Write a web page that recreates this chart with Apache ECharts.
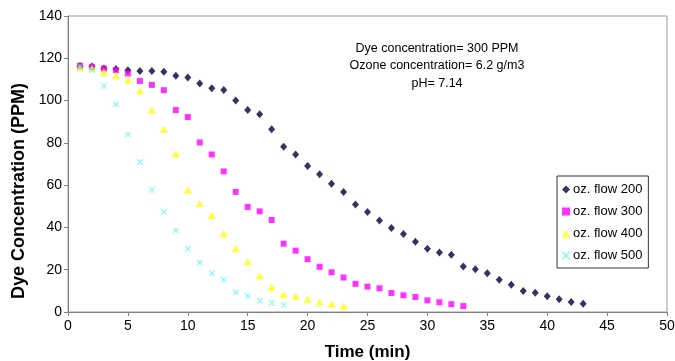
<!DOCTYPE html>
<html>
<head>
<meta charset="utf-8">
<script src="https://cdn.jsdelivr.net/npm/echarts@6/dist/echarts.min.js"></script>
<style>
  html, body { margin: 0; padding: 0; background: #fff; }
  #chart { width: 675px; height: 361px; }
</style>
</head>
<body>
<div id="chart"></div>
<script>
// time (min) for each series
var time200 = [1,2,3,4,5,6,7,8,9,10,11,12,13,14,15,16,17,18,19,20,21,22,23,24,25,26,27,28,29,30,31,32,33,34,35,36,37,38,39,40,41,42,43]
var flow200 = [116.4,116.1,115.2,114.9,114.4,114,114,113.6,111.7,110.9,108.1,105.8,105,100,95.5,93.5,86.4,78.2,74.5,69,65.2,60.7,56.8,50.8,47.3,43.3,39.7,36.9,33.2,29.9,28.1,27.1,21.5,20.2,18.3,15.3,12.9,9.9,9.1,7.4,6,4.7,3.9]

var time300 = [1,2,3,4,5,6,7,8,9,10,11,12,13,14,15,16,17,18,19,20,21,22,23,24,25,26,27,28,29,30,31,32,33]
var flow300 = [116.4,115.9,115.2,114.4,112.8,109.3,107.4,104.9,95.5,92.2,80.2,74.5,66.5,56.8,49.7,47.6,43.5,32.3,29,25,21.4,18.8,16.3,13.3,12,11.2,9,7.9,7.1,5.5,4.6,3.7,2.8]

var time400 = [1,2,3,4,5,6,7,8,9,10,11,12,13,14,15,16,17,18,19,20,21,22,23]
var flow400 = [115.6,115.3,113.6,112,109.8,104.6,95.5,86.4,74.8,57.7,51.3,45.6,37,29.9,23.9,17.2,11.7,8.2,7.4,6,4.7,3.7,2.7]

var time500 = [1,2,3,4,5,6,7,8,9,10,11,12,13,14,15,16,17,18]
var flow500 = [115.9,114.4,106.9,98.2,84,70.9,57.7,47.4,38.6,29.9,23.4,18.4,15.2,9.3,7.6,5.3,4.3,3.3]

var seriesNames = ['oz. flow 200', 'oz. flow 300', 'oz. flow 400', 'oz. flow 500']
var notes = ['Dye concentration= 300 PPM', 'Ozone concentration= 6.2 g/m3', 'pH= 7.14']

function pairs(xs, ys) {
  return xs.map(function (x, i) { return [x, ys[i]] })
}

// thin "x" mark, like the excel one
var crossPath = 'path://M0,1L1,0L5,4L9,0L10,1L6,5L10,9L9,10L5,6L1,10L0,9L4,5Z'

var myChart = echarts.init(document.getElementById('chart'))
var font = 'Liberation Sans, Arial, sans-serif'

var option = {
  animation: false,
  textStyle: { fontFamily: font },
  grid: {
    left: 68, right: 8, top: 16, bottom: 49,
    outerBoundsMode: 'none', // keep the plot box where it is
    show: true, borderColor: '#9a9a9a', borderWidth: 1
  },
  legend: {
    orient: 'vertical',
    left: 557,
    top: 176,
    padding: [7, 6, 6, 5],
    itemGap: 9,
    itemWidth: 8,
    itemHeight: 8,
    borderColor: '#333',
    borderWidth: 1,
    backgroundColor: '#fff',
    textStyle: { fontFamily: font, fontSize: 13, color: '#000', padding: [0, 0, 0, -2] },
    data: seriesNames
  },
  graphic: notes.map(function (t, i) {
    return {
      type: 'text',
      x: 437,
      y: 42 + i * 17.5,
      style: {
        text: t,
        align: 'center',
        verticalAlign: 'top',
        fontFamily: font,
        fontSize: 12.5,
        fill: '#000'
      }
    }
  }),
  xAxis: {
    type: 'value',
    min: 0,
    max: 50,
    interval: 5,
    name: 'Time (min)',
    nameLocation: 'middle',
    nameGap: 32,
    nameTextStyle: { fontFamily: font, fontSize: 17, fontWeight: 'bold', color: '#000' },
    axisLine: { lineStyle: { color: '#808080', width: 1 } },
    axisTick: { show: true, inside: false, length: 4, lineStyle: { color: '#808080' } },
    axisLabel: { fontSize: 14, color: '#000', margin: 7 },
    splitLine: { show: false }
  },
  yAxis: {
    type: 'value',
    min: 0,
    max: 140,
    interval: 20,
    name: 'Dye Concentration (PPM)',
    nameLocation: 'middle',
    nameGap: 40,
    // excel puts the title a bit below the middle
    nameTextStyle: { fontFamily: font, fontSize: 18, fontWeight: 'bold', color: '#000', padding: [0, 54, 0, 0] },
    axisLine: { show: true, lineStyle: { color: '#808080', width: 1 } },
    axisTick: { show: true, inside: false, length: 4, lineStyle: { color: '#808080' } },
    axisLabel: { fontSize: 14, color: '#000', margin: 6 },
    splitLine: { show: false }
  },
  series: [
    {
      name: seriesNames[0],
      type: 'scatter',
      symbol: 'diamond',
      symbolSize: [7, 8],
      itemStyle: { color: '#00003d' },
      data: pairs(time200, flow200)
    },
    {
      name: seriesNames[1],
      type: 'scatter',
      symbol: 'rect',
      symbolSize: 6,
      itemStyle: { color: '#ff00ff' },
      data: pairs(time300, flow300)
    },
    {
      name: seriesNames[2],
      type: 'scatter',
      symbol: 'triangle',
      symbolSize: [8, 7],
      itemStyle: { color: '#ffff00' },
      data: pairs(time400, flow400)
    },
    {
      name: seriesNames[3],
      type: 'scatter',
      symbol: crossPath,
      symbolSize: 6,
      itemStyle: { color: '#33ffff' },
      data: pairs(time500, flow500)
    }
  ]
}

myChart.setOption(option)
</script>
</body>
</html>
